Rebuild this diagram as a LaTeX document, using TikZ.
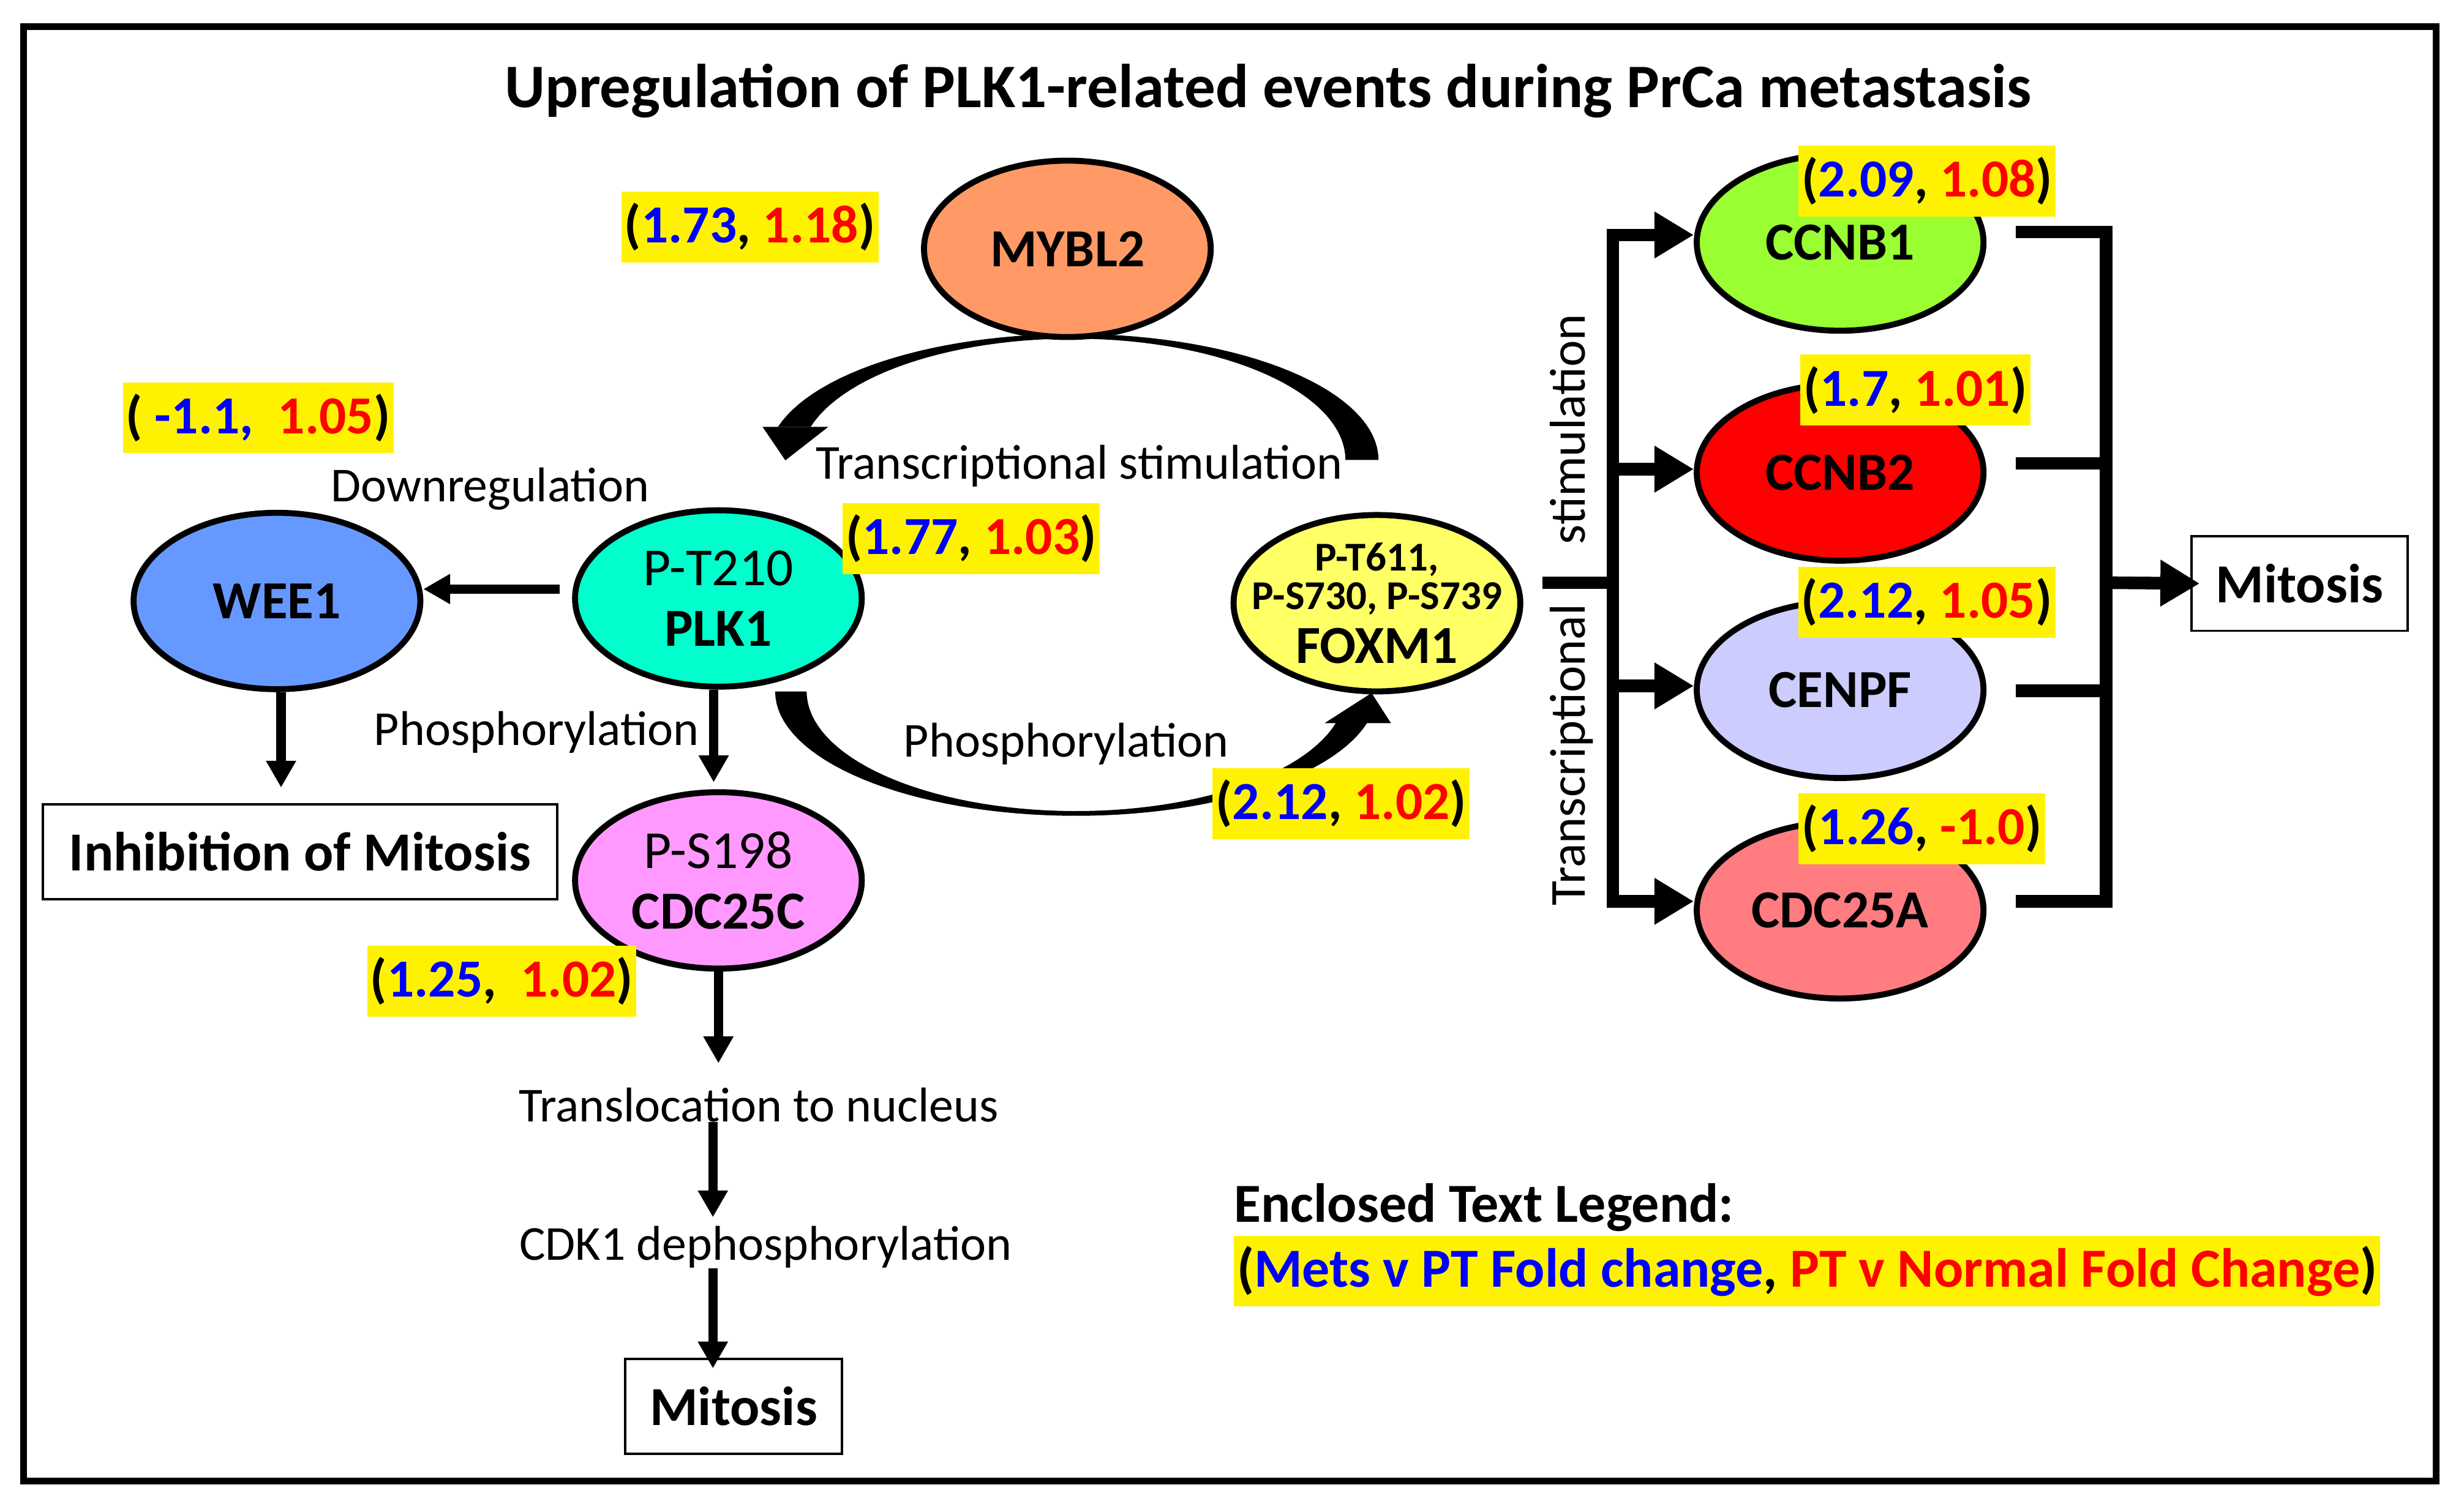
\documentclass[tikz,border=0pt]{standalone}
\usepackage{fontspec}
\setmainfont{Carlito}
\usepackage{tikz}
\usetikzlibrary{shapes.geometric, arrows.meta}

\definecolor{myblfill}{HTML}{FF9966}
\definecolor{weefill}{HTML}{6699FF}
\definecolor{plkfill}{HTML}{00FFCC}
\definecolor{cdcfill}{HTML}{FF99FF}
\definecolor{foxfill}{HTML}{FFFF66}
\definecolor{ccnbonefill}{HTML}{99FF33}
\definecolor{ccnbtwofill}{HTML}{FF0000}
\definecolor{cenpffill}{HTML}{CCCCFF}
\definecolor{cdcafill}{HTML}{FF7C80}

\newcommand{\fc}[2]{(\textcolor{blue}{#1}, \textcolor{red}{#2})}

\begin{document}
\begin{tikzpicture}[x=1pt, y=-1pt,
  gene/.style={ellipse, draw, line width=3.8pt, minimum width=182pt, minimum height=112pt,
    inner sep=0pt, align=center, font=\bfseries\fontsize{34}{38.3}\selectfont},
  fold/.style={fill=yellow, inner xsep=2pt, inner ysep=0pt, minimum height=45pt,
    font=\bfseries\fontsize{34}{40}\selectfont},
  lbl/.style={inner sep=0pt, font=\fontsize{31}{36}\selectfont},
  endbox/.style={draw, line width=1.5pt, minimum height=60pt, inner sep=0pt,
    font=\bfseries\fontsize{35}{40}\selectfont},
  flow/.style={line width=6pt, -{Triangle[length=17pt,width=18pt]}},
  bar/.style={line width=8pt},
  branch/.style={line width=8pt, -{Triangle[length=25pt,width=28pt]}}]

\useasboundingbox (0,0) rectangle (1564,954.6);
\draw[line width=4.4pt] (15,16.9) rectangle (1546.3,940.4);

\node[anchor=base, inner sep=0pt, font=\bfseries\fontsize{39.3}{44}\selectfont] (title) at (805,68.2)
  {Upregulation of PLK1-related events during PrCa metastasis};

% curved arrows
\fill plot[domain=0:-164.8, samples=60] ({681+194*cos(\x)},{292+80*sin(\x)})
  -- plot[domain=-164.2:0, samples=60] ({681+173*cos(\x)},{292+77*sin(\x)}) -- cycle;
\fill (484,271) -- (525.8,271) -- (498.5,292.3) -- cycle;
\fill plot[domain=180:14.67, samples=60] ({683+191*cos(\x)},{439+79*sin(\x)})
  -- plot[domain=15.26:180, samples=60] ({683+171*cos(\x)},{439+76*sin(\x)}) -- cycle;
\fill (840.7,459.2) -- (882.9,459.2) -- (870.6,440) -- cycle;

\node[gene, fill=myblfill] (mybl) at (677.5,158) {MYBL2};
\node[gene, fill=weefill] (wee) at (175.8,381.6) {WEE1};
\node[gene, fill=plkfill] (plk) at (456,380) {{\mdseries P-T210}\\PLK1};
\node[gene, fill=cdcfill] (cdcc) at (456,559) {{\mdseries P-S198}\\CDC25C};
\node[gene, fill=foxfill, inner xsep=-40pt, inner ysep=-30pt, font=\bfseries\fontsize{34}{24.6}\selectfont] (foxm) at (874,383)
  {{\fontsize{26}{24.6}\selectfont P-T611,}\\{\fontsize{26}{24.6}\selectfont P-S730, P-S739}\\[7.6pt]FOXM1};

\node[gene, fill=ccnbonefill] (ccnb1) at (1168,154) {CCNB1};
\node[gene, fill=ccnbtwofill] (ccnb2) at (1168,300) {CCNB2};
\node[gene, fill=cenpffill] (cenpf) at (1168,438) {CENPF};
\node[gene, fill=cdcafill] (cdca) at (1168,578) {CDC25A};

\node[endbox, minimum width=326.7pt] (inhib) at (190.4,540.8) {Inhibition of Mitosis};
\node[endbox, minimum width=137.6pt] (mitos) at (465.6,893) {Mitosis};
\node[endbox, minimum width=137.2pt] (mitosr) at (1459.6,370.5) {Mitosis};

\node[lbl, anchor=base] (down) at (311,318.5) {Downregulation};
\node[lbl, anchor=base] (phos1) at (340.6,473.1) {Phosphorylation};
\node[lbl, anchor=base] (trst) at (685,304.3) {Transcriptional stimulation};
\node[lbl, anchor=base] (phos2) at (676.8,480.4) {Phosphorylation};
\node[lbl, anchor=base] (transl) at (481.5,712.3) {Translocation to nucleus};
\node[lbl, anchor=base] (cdk) at (486,800.2) {CDK1 dephosphorylation};
\node[lbl, anchor=base, rotate=90, font=\fontsize{32}{36}\selectfont] (trvert) at (1005.9,387.2)
  {Transcriptional\hspace{38pt}stimulation};

\coordinate (a1) at ([yshift=6pt]plk.west);
\draw[flow] ([xshift=-8pt]a1) -- (a1 -| wee.east);
\draw[flow] ([xshift=2.6pt]wee.south) -- ([xshift=2.6pt,yshift=10pt]wee.south |- inhib.north);
\draw[flow] ([xshift=-3pt]plk.south) -- ([xshift=-3pt,yshift=4.4pt]cdcc.north);
\draw[flow] (cdcc.south) -- ([yshift=15.5pt]cdcc.south |- transl.north);
\draw[flow] ([xshift=-29pt]transl.base) -- ([xshift=-29pt,yshift=5.6pt]transl.base |- cdk.north);
\draw[flow] ([xshift=-33.5pt]cdk.south) -- ([xshift=-33.5pt,yshift=-6.6pt]cdk.south |- mitos.north);

\coordinate (fork) at (1023.7,370);
\draw[bar] ([xshift=12pt]fork -| foxm.east) -- (fork);
\foreach \g/\dy in {ccnb1/4.8, ccnb2/2.1, cenpf/2.5, cdca/5.7}{
  \coordinate (in-\g) at ([yshift=\dy pt]\g.west);
  \draw[branch] (fork |- in-\g) -- (in-\g);
}
\draw[bar, line cap=rect] (fork |- in-ccnb1) -- (fork |- in-cdca);

\coordinate (join) at (1336.7,370);
\foreach \g/\dy in {ccnb1/6.7, ccnb2/5.8, cenpf/-0.5, cdca/5.7}{
  \coordinate (out-\g) at ([xshift=18.6pt,yshift=\dy pt]\g.east);
  \draw[bar] (out-\g) -- (out-\g -| join);
}
\draw[bar, line cap=rect] (join |- out-ccnb1) -- (join |- out-cdca);
\draw[branch] ([xshift=4pt]join) -- ([xshift=6pt]mitosr.west);

\node[fold] (f-mybl) at (476,144.2) {\fc{1.73}{1.18}};
\node[fold] (f-wee) at (163.9,265.3) {(~\textcolor{blue}{-1.1,}~~\textcolor{red}{1.05})};
\node[fold] (f-plk) at (616.4,342) {\fc{1.77}{1.03}};
\node[fold] (f-foxm) at (851.3,510.3) {\fc{2.12}{1.02}};
\node[fold] (f-cdc) at (318.5,623) {(\textcolor{blue}{1.25},~~\textcolor{red}{1.02})};
\node[fold] (f-ccnb1) at (1223.2,115) {\fc{2.09}{1.08}};
\node[fold] (f-ccnb2) at (1215.7,247.7) {\fc{1.7}{1.01}};
\node[fold] (f-cenpf) at (1223,382.3) {\fc{2.12}{1.05}};
\node[fold] (f-cdca) at (1219.8,526.2) {\fc{1.26}{-1.0}};

\node[anchor=base west, inner sep=0pt, font=\bfseries\fontsize{35}{40}\selectfont] (legend) at (783.2,776)
  {Enclosed Text Legend:};
\node[fold, font=\bfseries\fontsize{35}{40}\selectfont] (legkey) at (1147,807.1)
  {(\textcolor{blue}{Mets v PT Fold change}, \textcolor{red}{PT v Normal Fold Change})};
\end{tikzpicture}
\end{document}
